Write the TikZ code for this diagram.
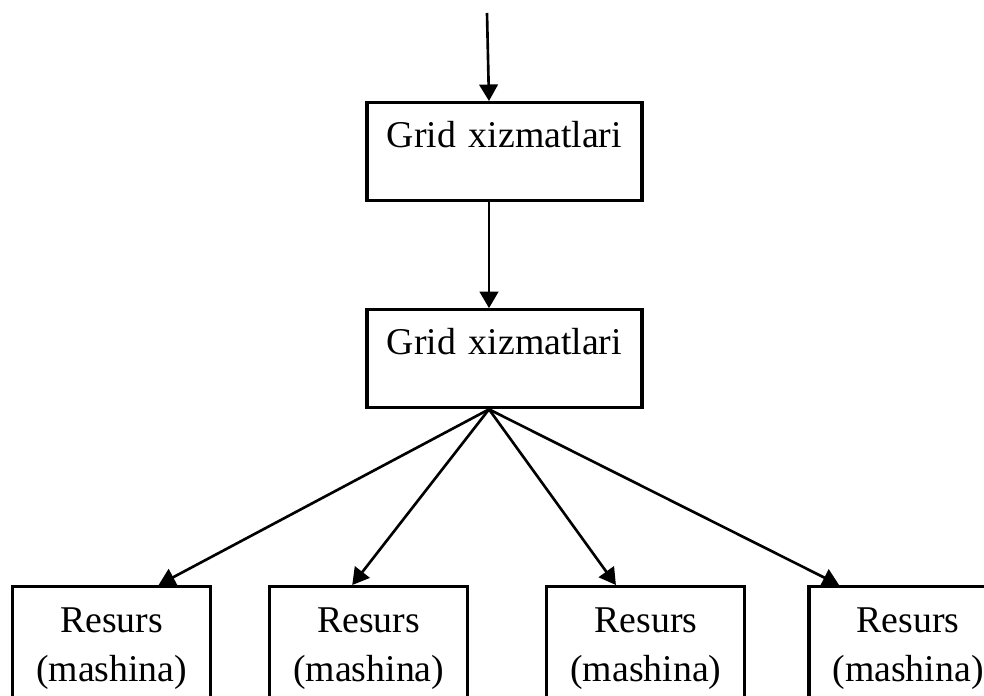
\documentclass[tikz,border=0pt]{standalone}
\usepackage{fontspec}
\setmainfont{Liberation Serif}
\usetikzlibrary{arrows.meta, positioning}

\begin{document}
\begin{tikzpicture}[
  font=\fontsize{21.5}{27.9}\selectfont,
  svc/.style={rectangle, draw, line width=1.8pt, inner sep=0pt,
              text width=5.5cm, align=center, text height=0.9cm, text depth=1.06cm},
  res/.style={rectangle, draw, line width=1.8pt, inner sep=0pt,
              text width=3.96cm, align=center, text height=0.92cm, text depth=1.68cm},
  arr/.style={-{Triangle[length=3.3mm, width=3.7mm]}, line width=1.5pt}]

  \useasboundingbox (0,0) rectangle (19.68,-13.92);
  \clip (0,0) rectangle (19.68,-13.92);

  % grid service layers
  \node[svc, anchor=north] (gs1) at (10.09,-2.02) {Grid xizmatlari};
  \node[svc, below=2.12cm of gs1] (gs2) {Grid xizmatlari};
  \coordinate (in) at (9.74,-0.26);

  % resources
  \node[res, anchor=north west] (r1) at (0.22,-11.7) {Resurs\\(mashina)};
  \node[res, right=1.12cm of r1] (r2) {Resurs\\(mashina)};
  \node[res, right=1.52cm of r2] (r3) {Resurs\\(mashina)};
  \node[res, right=1.22cm of r3] (r4) {Resurs\\(mashina)};

  \draw[arr] (in) -- ([xshift=-0.31cm]gs1.north);
  \draw[arr] ([xshift=-0.31cm]gs1.south) -- ([xshift=-0.31cm]gs2.north);
  \draw[arr] ([xshift=-0.31cm]gs2.south) -- ([xshift=0.94cm]r1.north);
  \draw[arr] ([xshift=-0.31cm]gs2.south) -- ([xshift=-0.33cm]r2.north);
  \draw[arr] ([xshift=-0.31cm]gs2.south) -- ([xshift=-0.6cm]r3.north);
  \draw[arr] ([xshift=-0.31cm]gs2.south) -- ([xshift=-1.38cm]r4.north);
\end{tikzpicture}
\end{document}
